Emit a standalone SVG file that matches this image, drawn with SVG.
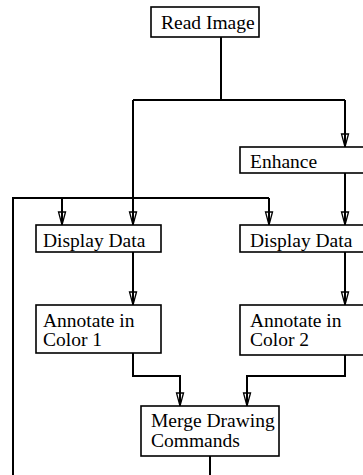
<svg xmlns="http://www.w3.org/2000/svg" width="363" height="475" viewBox="0 0 363 475">
<style>
.box{fill:#fff;stroke:#000;stroke-width:1.6}
.t{font-family:"Liberation Serif","Times New Roman",serif;font-size:19.5px;fill:#000}
.c{fill:none;stroke:#000;stroke-width:2}
.ca{fill:none;stroke:#000;stroke-width:2;marker-end:url(#a)}
</style>
<defs>
<marker id="a" markerUnits="userSpaceOnUse" markerWidth="18" markerHeight="12" viewBox="-15 -6 18 12" refX="0" refY="0" orient="auto">
<path d="M-13,-3.5 L0,0 L-13,3.5 Z" fill="none" stroke="#000" stroke-width="1.3"/>
</marker>
</defs>
<rect width="363" height="475" fill="#fff"/>
<g id="connectors">
<path class="c" d="M221,37 V100 M133,100 H345"/>
<path class="ca" d="M345,100 V147"/>
<path class="ca" d="M133,100 V225"/>
<path class="ca" d="M345,173 V225"/>
<path class="c" d="M13,475 V198 H269"/>
<path class="ca" d="M62,198 V225"/>
<path class="ca" d="M269,198 V225"/>
<path class="ca" d="M133,252 V305"/>
<path class="ca" d="M345,252 V305"/>
<path class="ca" d="M133,353 V376 H180 V406"/>
<path class="ca" d="M345,355 V376 H247 V406"/>
<path class="c" d="M210,456 V475"/>
</g>
<g id="read-image">
<rect class="box" x="151" y="7" width="108" height="30"/>
<text class="t" x="161" y="28.5">Read Image</text>
</g>
<g id="enhance">
<rect class="box" x="240" y="147" width="130" height="26"/>
<text class="t" x="250" y="168">Enhance</text>
</g>
<g id="display-data-1">
<rect class="box" x="36" y="225" width="125" height="27"/>
<text class="t" x="43" y="247">Display Data</text>
</g>
<g id="display-data-2">
<rect class="box" x="240" y="225" width="130" height="27"/>
<text class="t" x="250" y="247">Display Data</text>
</g>
<g id="annotate-1">
<rect class="box" x="36" y="305" width="125" height="48"/>
<text class="t" x="43" y="327">Annotate in</text>
<text class="t" x="43" y="346">Color 1</text>
</g>
<g id="annotate-2">
<rect class="box" x="240" y="305" width="130" height="50"/>
<text class="t" x="250" y="327">Annotate in</text>
<text class="t" x="250" y="346">Color 2</text>
</g>
<g id="merge">
<rect class="box" x="141" y="406" width="138" height="50"/>
<text class="t" x="151" y="426.5">Merge Drawing</text>
<text class="t" x="151" y="446.5">Commands</text>
</g>
</svg>
